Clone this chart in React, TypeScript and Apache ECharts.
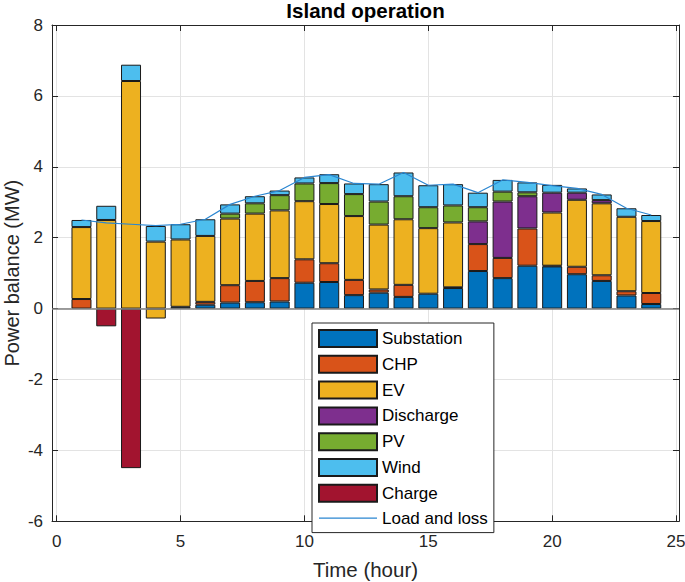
import React, { useEffect, useRef } from 'react';
import * as echarts from 'echarts';

const hours = [1, 2, 3, 4, 5, 6, 7, 8, 9, 10, 11, 12, 13, 14, 15, 16, 17, 18, 19, 20, 21, 22, 23, 24];
const substation = [0, 0, 0, 0, 0.05, 0.11, 0.17, 0.18, 0.2, 0.73, 0.75, 0.38, 0.45, 0.33, 0.42, 0.58, 1.06, 0.86, 1.21, 1.19, 0.97, 0.78, 0.37, 0.13];
const chp = [0.27, 0, 0, 0, 0, 0.08, 0.49, 0.6, 0.66, 0.66, 0.53, 0.43, 0.09, 0.34, 0, 0.02, 0.76, 0.57, 1.05, 0.02, 0.21, 0.16, 0.12, 0.31];
const ev = [2.03, 2.5, 6.42, 1.89, 1.9, 1.86, 1.88, 1.9, 1.91, 1.64, 1.67, 1.8, 1.83, 1.85, 1.85, 1.83, 0, 0, 0, 1.5, 1.89, 2.03, 2.1, 2.03];
const evCharge = [0, 0, 0, -0.28, 0, 0, 0, 0, 0, 0, 0, 0, 0, 0, 0, 0, 0, 0, 0, 0, 0, 0, 0, 0];
const discharge = [0, 0, 0, 0, 0, 0, 0, 0, 0, 0, 0, 0, 0, 0, 0, 0, 0.64, 1.59, 0.91, 0.56, 0.2, 0.09, 0, 0];
const pv = [0, 0, 0, 0, 0, 0, 0.14, 0.29, 0.43, 0.5, 0.59, 0.62, 0.65, 0.65, 0.59, 0.48, 0.4, 0.28, 0.11, 0, 0, 0, 0, 0];
const wind = [0.2, 0.4, 0.46, 0.44, 0.43, 0.47, 0.26, 0.2, 0.13, 0.17, 0.25, 0.3, 0.49, 0.67, 0.62, 0.6, 0.41, 0.33, 0.28, 0.22, 0.12, 0.16, 0.24, 0.17];
const charge = [0, -0.5, -4.5, 0, 0, 0, 0, 0, 0, 0, 0, 0, 0, 0, 0, 0, 0, 0, 0, 0, 0, 0, 0, 0];
const loadLoss = [2.5, 2.42, 2.38, 2.34, 2.38, 2.52, 2.94, 3.17, 3.33, 3.7, 3.78, 3.53, 3.51, 3.84, 3.48, 3.51, 3.27, 3.63, 3.56, 3.47, 3.39, 3.22, 2.83, 2.64];
const xTicks = [0, 5, 10, 15, 20, 25];

const FONT = '"Liberation Sans", Arial, Helvetica, sans-serif';
const AXIS_COLOR = '#262626';
const X_MIN = -0.19;
const X_MAX = 25.12;
const GRID_LEFT = 52;
const GRID_RIGHT = 6;
const GRID_TOP = 25;
const GRID_BOTTOM = 60.7;
const WIDTH = 685;
const HEIGHT = 582;

const App: React.FC = () => {
  const chartRef = useRef<HTMLDivElement>(null);

  useEffect(() => {
    if (!chartRef.current) return;
    const chart = echarts.init(chartRef.current, null, { renderer: 'svg' });

    // 柱子放在一个隐藏的类目轴上，使类目中心与数值轴上的小时对齐
    const pxPerHour = (WIDTH - GRID_LEFT - GRID_RIGHT) / (X_MAX - X_MIN);
    const barLeft = GRID_LEFT + (hours[0] - 0.5 - X_MIN) * pxPerHour;
    const barRight = GRID_RIGHT + (X_MAX - hours[hours.length - 1] - 0.5) * pxPerHour;

    const barSeries = (name: string, values: number[], color: string) => ({
      name,
      type: 'bar',
      stack: 'total',
      xAxisIndex: 2,
      yAxisIndex: 2,
      barWidth: 20,
      data: values.map((v) => (v === 0 ? null : v)),
      itemStyle: { color, borderColor: '#1a1a1a', borderWidth: 1 },
      emphasis: { disabled: true },
    });

    const option: any = {
      animation: false,
      backgroundColor: '#ffffff',
      textStyle: { fontFamily: FONT },
      title: {
        text: 'Island operation',
        left: (GRID_LEFT + WIDTH - GRID_RIGHT) / 2,
        top: 0,
        padding: 0,
        textAlign: 'center',
        textStyle: { fontFamily: FONT, fontSize: 20.5, fontWeight: 'bold', color: '#000' },
      },
      grid: [
        { left: GRID_LEFT, right: GRID_RIGHT, top: GRID_TOP, bottom: GRID_BOTTOM, containLabel: false, outerBoundsMode: 'none' },
        { left: barLeft, right: barRight, top: GRID_TOP, bottom: GRID_BOTTOM, containLabel: false, outerBoundsMode: 'none' },
      ],
      legend: {
        orient: 'vertical',
        left: 312,
        top: 323,
        padding: 6,
        itemGap: 6.8,
        itemWidth: 58,
        itemHeight: 17,
        borderColor: AXIS_COLOR,
        borderWidth: 1,
        backgroundColor: '#ffffff',
        textStyle: { fontFamily: FONT, fontSize: 17, color: '#000' },
        data: [
          { name: 'Substation', icon: 'rect' },
          { name: 'CHP', icon: 'rect' },
          { name: 'EV', icon: 'rect' },
          { name: 'Discharge', icon: 'rect' },
          { name: 'PV', icon: 'rect' },
          { name: 'Wind', icon: 'rect' },
          { name: 'Charge', icon: 'rect' },
          { name: 'Load and loss', icon: 'path://M0,0L58,0L58,1.2L0,1.2Z' },
        ],
        z: 10,
      },
      xAxis: [
        {
          type: 'value',
          gridIndex: 0,
          min: X_MIN,
          max: X_MAX,
          name: 'Time (hour)',
          nameLocation: 'middle',
          nameGap: 38,
          nameMoveOverlap: false,
          nameTextStyle: { fontFamily: FONT, fontSize: 20.5, color: AXIS_COLOR },
          axisLine: { show: true, onZero: false, lineStyle: { color: AXIS_COLOR, width: 1 } },
          axisTick: { show: true, inside: true, length: 6, customValues: xTicks, lineStyle: { color: AXIS_COLOR } },
          axisLabel: { customValues: xTicks, margin: 12, fontFamily: FONT, fontSize: 17, color: AXIS_COLOR },
          splitLine: { show: true, lineStyle: { color: '#e3e3e3', width: 1 } },
        },
        {
          type: 'value',
          gridIndex: 0,
          position: 'top',
          min: X_MIN,
          max: X_MAX,
          axisLine: { show: true, onZero: false, lineStyle: { color: AXIS_COLOR, width: 1 } },
          axisTick: { show: true, inside: true, length: 6, customValues: xTicks, lineStyle: { color: AXIS_COLOR } },
          axisLabel: { show: false },
          splitLine: { show: false },
        },
        {
          type: 'category',
          gridIndex: 1,
          data: hours.map(String),
          boundaryGap: true,
          show: false,
        },
      ],
      yAxis: [
        {
          type: 'value',
          gridIndex: 0,
          min: -6,
          max: 8,
          interval: 2,
          name: 'Power balance (MW)',
          nameLocation: 'middle',
          nameGap: 30,
          nameMoveOverlap: false,
          nameTextStyle: { fontFamily: FONT, fontSize: 20, color: AXIS_COLOR },
          axisLine: { show: true, onZero: false, lineStyle: { color: AXIS_COLOR, width: 1 } },
          axisTick: { show: true, inside: true, length: 6, lineStyle: { color: AXIS_COLOR } },
          axisLabel: { margin: 9, fontFamily: FONT, fontSize: 17, color: AXIS_COLOR },
          splitLine: { show: true, lineStyle: { color: '#e3e3e3', width: 1 } },
        },
        {
          type: 'value',
          gridIndex: 0,
          position: 'right',
          min: -6,
          max: 8,
          interval: 2,
          axisLine: { show: true, onZero: false, lineStyle: { color: AXIS_COLOR, width: 1 } },
          axisTick: { show: true, inside: true, length: 6, lineStyle: { color: AXIS_COLOR } },
          axisLabel: { show: false },
          splitLine: { show: false },
        },
        {
          type: 'value',
          gridIndex: 1,
          min: -6,
          max: 8,
          interval: 2,
          show: false,
        },
      ],
      series: [
        barSeries('Substation', substation, '#0072BD'),
        barSeries('CHP', chp, '#D95319'),
        barSeries('EV', ev, '#EDB120'),
        barSeries('Discharge', discharge, '#7E2F8E'),
        barSeries('PV', pv, '#77AC30'),
        barSeries('Wind', wind, '#4DBEEE'),
        barSeries('Charge', charge, '#A2142F'),
        barSeries('EV', evCharge, '#EDB120'),
        {
          name: 'Load and loss',
          type: 'line',
          xAxisIndex: 0,
          yAxisIndex: 0,
          data: loadLoss.map((v, i) => [hours[i], v]),
          symbol: 'none',
          lineStyle: { color: '#2a86d1', width: 1.2 },
          itemStyle: { color: '#2a86d1' },
          z: 5,
          emphasis: { disabled: true },
          markLine: {
            silent: true,
            symbol: 'none',
            label: { show: false },
            lineStyle: { color: '#7f7f7f', width: 1.6, type: 'solid' },
            data: [{ yAxis: 0 }],
          },
        },
      ],
    };

    chart.setOption(option);
    return () => {
      chart.dispose();
    };
  }, []);

  return (
    <div
      ref={chartRef}
      style={{ position: 'fixed', left: 0, top: 0, width: WIDTH, height: HEIGHT }}
    />
  );
};

export default App;
